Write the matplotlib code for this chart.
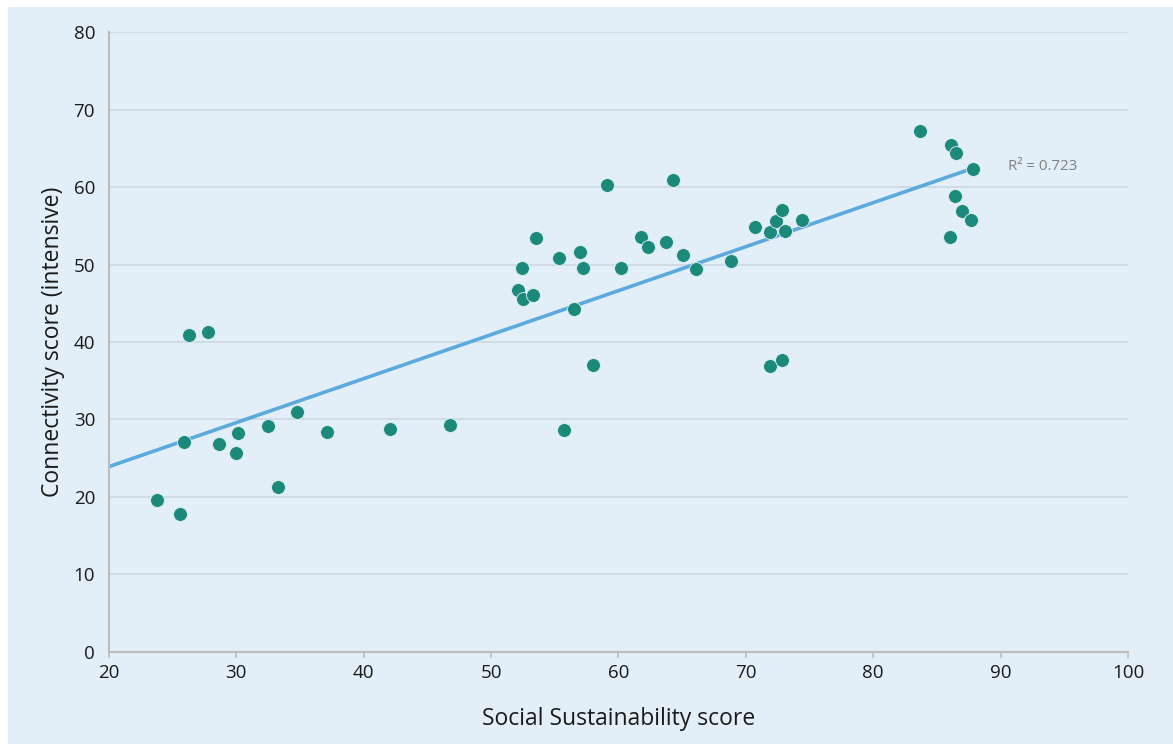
import numpy as np
import matplotlib
matplotlib.use("Agg")
import matplotlib.pyplot as plt
from matplotlib.patches import Rectangle

plt.rcParams['font.family'] = ['Open Sans', 'DejaVu Sans']

# Social sustainability score vs. connectivity score (intensive), one point per region
social_score = [
    23.8, 25.6, 26.3, 27.8, 25.9, 28.6, 30.1, 30.0, 32.5, 33.3,
    34.8, 37.1, 42.1, 46.8, 55.7, 58.0, 52.1, 52.5, 53.3, 52.4,
    53.5, 55.3, 57.0, 57.2, 56.5, 59.1, 60.2, 61.8, 62.3, 63.7,
    64.3, 65.1, 66.1, 68.8, 70.7, 71.9, 72.4, 72.8, 73.1, 74.4,
    71.9, 72.8, 83.7, 86.1, 86.5, 87.8, 86.4, 87.0, 87.7, 86.0,
]
connectivity_score = [
    19.6, 17.8, 40.9, 41.3, 27.1, 26.8, 28.2, 25.6, 29.1, 21.2,
    30.9, 28.3, 28.7, 29.3, 28.6, 37.0, 46.7, 45.6, 46.0, 49.5,
    53.4, 50.8, 51.6, 49.6, 44.3, 60.3, 49.5, 53.5, 52.3, 52.9,
    60.9, 51.2, 49.4, 50.5, 54.8, 54.2, 55.6, 57.0, 54.3, 55.7,
    36.9, 37.7, 67.2, 65.5, 64.4, 62.4, 58.8, 56.9, 55.7, 53.5,
]
r2_label = "R² = 0.723"

x_ticks = [20, 30, 40, 50, 60, 70, 80, 90, 100]
y_ticks = [0, 10, 20, 30, 40, 50, 60, 70, 80]

bg = "#e2eff8"
teal = "#1b8a7b"
blue = "#5ca9dd"
grid_c = "#ccd6dd"
spine_c = "#bcbcbc"
text_c = "#1a1a1a"

fig = plt.figure(figsize=(11.73, 7.44), dpi=100)
fig.patch.set_facecolor("white")
fig.patches.append(Rectangle((8 / 1173, 0), 1 - 8 / 1173, 1 - 7 / 744,
                             transform=fig.transFigure, facecolor=bg,
                             edgecolor="none", zorder=-10))

ax = fig.add_axes([0.0929, 0.1243, 0.8687, 0.8323])
ax.set_facecolor(bg)
ax.set_xlim(20, 100)
ax.set_ylim(0, 80)
ax.set_xticks(x_ticks)
ax.set_yticks(y_ticks)

ax.grid(axis="y", color=grid_c, linewidth=1.1, zorder=0)
ax.grid(axis="x", visible=False)
for side in ("top", "right"):
    ax.spines[side].set_visible(False)
for side in ("left", "bottom"):
    ax.spines[side].set_color(spine_c)
    ax.spines[side].set_linewidth(1.5)

ax.tick_params(axis="x", length=4, width=1.2, color=spine_c, labelsize=13.5,
               pad=5, labelcolor=text_c)
ax.tick_params(axis="y", length=0, labelsize=13.5, pad=10, labelcolor=text_c)

x = np.array(social_score)
y = np.array(connectivity_score)

# Linear least-squares trend line
slope, intercept = np.polyfit(x, y, 1)
xs = np.array([20, x.max()])
ax.plot(xs, slope * xs + intercept, color=blue, linewidth=2.6,
        solid_capstyle="round", zorder=2)

ax.scatter(x, y, s=100, color=teal, edgecolors=bg, linewidths=0.6, zorder=3)

ax.text(90.6, slope * 87.8 + intercept + 0.2, r2_label, fontsize=10.8,
        color="#808080", va="center", ha="left")

ax.set_xlabel("Social Sustainability score", fontsize=16.5, labelpad=18,
              color=text_c)
ax.set_ylabel("Connectivity score (intensive)", fontsize=16.5, labelpad=6,
              color=text_c)

fig.savefig("out.png", dpi=100, facecolor=fig.get_facecolor())
